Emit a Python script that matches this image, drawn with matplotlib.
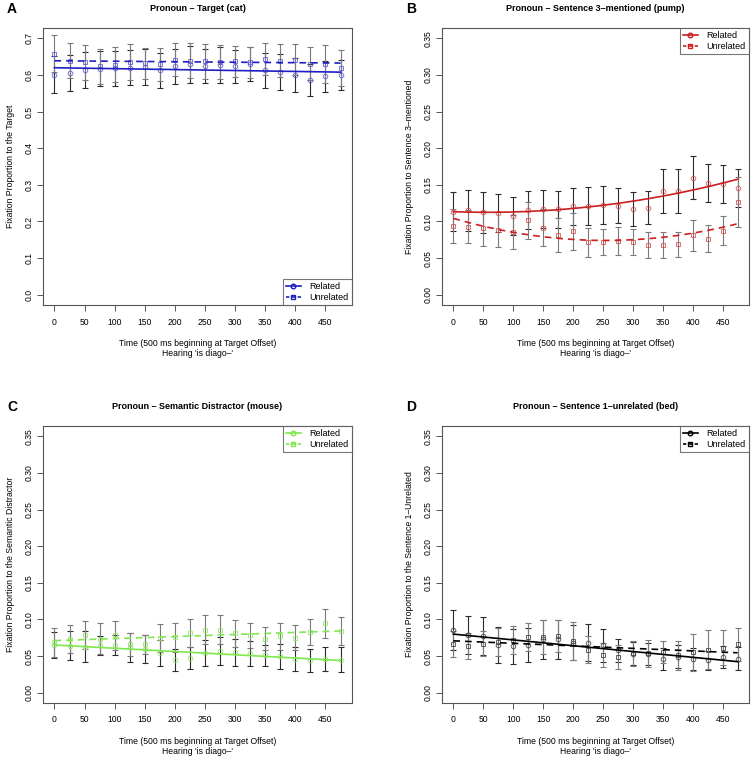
import matplotlib
matplotlib.use('Agg')
import matplotlib.pyplot as plt
from matplotlib.lines import Line2D
import numpy as np

plt.rcParams['font.family'] = ['Liberation Sans', 'DejaVu Sans']

time = [0, 25, 50, 75, 100, 125, 150, 175, 200, 225, 250, 275, 300, 325, 350, 375, 400, 425, 450, 475]
x_ticks = [0, 50, 100, 150, 200, 250, 300, 350, 400, 450]

# Panel A: Target (cat)
a_rel = [0.601, 0.606, 0.613, 0.617, 0.618, 0.620, 0.622, 0.613, 0.623, 0.629,
         0.624, 0.627, 0.624, 0.629, 0.613, 0.608, 0.600, 0.587, 0.596, 0.601]
a_rel_se = [0.050, 0.049, 0.050, 0.048, 0.047, 0.047, 0.049, 0.048, 0.049, 0.050,
            0.047, 0.048, 0.045, 0.047, 0.048, 0.049, 0.046, 0.044, 0.043, 0.041]
a_unr = [0.658, 0.639, 0.634, 0.623, 0.628, 0.635, 0.632, 0.629, 0.642, 0.639,
         0.637, 0.636, 0.637, 0.634, 0.644, 0.639, 0.642, 0.631, 0.630, 0.620]
a_unr_se = [0.050, 0.047, 0.047, 0.049, 0.047, 0.048, 0.042, 0.045, 0.046, 0.047,
            0.047, 0.046, 0.043, 0.042, 0.044, 0.045, 0.043, 0.046, 0.051, 0.049]

# Panel B: Sentence 3-mentioned (pump)
b_rel = [0.1135, 0.1154, 0.1126, 0.1117, 0.1072, 0.1154, 0.1167, 0.1167, 0.1208, 0.1217,
         0.1222, 0.1213, 0.1167, 0.1190, 0.1421, 0.1421, 0.1599, 0.1530, 0.1508, 0.1462]
b_rel_se = [0.027, 0.028, 0.028, 0.026, 0.026, 0.026, 0.026, 0.025, 0.025, 0.026,
            0.026, 0.024, 0.023, 0.022, 0.030, 0.030, 0.029, 0.026, 0.026, 0.026]
b_unr = [0.0936, 0.0930, 0.0908, 0.0886, 0.0854, 0.1017, 0.0917, 0.0817, 0.0863, 0.0713,
         0.0717, 0.0731, 0.0722, 0.0681, 0.0681, 0.0690, 0.0813, 0.0767, 0.0872, 0.1267]
b_unr_se = [0.023, 0.023, 0.024, 0.024, 0.023, 0.025, 0.025, 0.023, 0.025, 0.020,
            0.018, 0.019, 0.018, 0.018, 0.018, 0.017, 0.021, 0.019, 0.020, 0.034]

# Panel C: Semantic Distractor (mouse)
c_rel = [0.065, 0.064, 0.063, 0.065, 0.065, 0.062, 0.060, 0.054, 0.045, 0.047,
         0.054, 0.057, 0.055, 0.054, 0.051, 0.050, 0.046, 0.044, 0.046, 0.045]
c_rel_se = [0.018, 0.020, 0.021, 0.013, 0.014, 0.020, 0.019, 0.018, 0.015, 0.015,
            0.018, 0.019, 0.019, 0.017, 0.014, 0.017, 0.016, 0.016, 0.016, 0.017]
c_unr = [0.0686, 0.0737, 0.0787, 0.0737, 0.0782, 0.0660, 0.0660, 0.0750, 0.0755, 0.0814,
         0.0860, 0.0860, 0.0810, 0.0787, 0.0737, 0.0768, 0.0750, 0.0828, 0.0946, 0.0837]
c_unr_se = [0.020, 0.019, 0.019, 0.021, 0.020, 0.016, 0.013, 0.019, 0.020, 0.019,
            0.020, 0.020, 0.018, 0.017, 0.016, 0.018, 0.017, 0.018, 0.020, 0.019]

# Panel D: Sentence 1-unrelated (bed)
d_rel = [0.0854, 0.0791, 0.0772, 0.0650, 0.0636, 0.0655, 0.0727, 0.0727, 0.0682, 0.0682,
         0.0645, 0.0577, 0.0532, 0.0527, 0.0454, 0.0491, 0.0454, 0.0441, 0.0482, 0.0464]
d_rel_se = [0.027, 0.026, 0.026, 0.025, 0.024, 0.023, 0.027, 0.027, 0.024, 0.025,
            0.022, 0.016, 0.016, 0.015, 0.015, 0.016, 0.015, 0.013, 0.015, 0.016]
d_unr = [0.0668, 0.0641, 0.0668, 0.0696, 0.0723, 0.0764, 0.0764, 0.0772, 0.0700, 0.0590,
         0.0518, 0.0486, 0.0536, 0.0536, 0.0554, 0.0509, 0.0550, 0.0590, 0.0614, 0.0659]
d_unr_se = [0.018, 0.018, 0.017, 0.019, 0.019, 0.019, 0.023, 0.022, 0.026, 0.018,
            0.016, 0.016, 0.017, 0.018, 0.015, 0.020, 0.025, 0.026, 0.024, 0.023]

panels = [
    dict(letter='A', title='Pronoun \u2013 Target (cat)', ylabel='Fixation Proportion to the Target',
         rel=a_rel, rel_se=a_rel_se, unr=a_unr, unr_se=a_unr_se, deg=1,
         line='#1f1fc4', mark='#5555d8', yticks=[0, 0.1, 0.2, 0.3, 0.4, 0.5, 0.6, 0.7], fmt='%.1f',
         ymax=0.7, loc='lower right'),
    dict(letter='B', title='Pronoun \u2013 Sentence 3\u2013mentioned (pump)',
         ylabel='Fixation Proportion to Sentence 3\u2013mentioned',
         rel=b_rel, rel_se=b_rel_se, unr=b_unr, unr_se=b_unr_se, deg=2,
         line='#cc1f1f', mark='#d84a4a', yticks=[0, 0.05, 0.1, 0.15, 0.2, 0.25, 0.3, 0.35], fmt='%.2f',
         ymax=0.35, loc='upper right'),
    dict(letter='C', title='Pronoun \u2013 Semantic Distractor (mouse)',
         ylabel='Fixation Proportion to the Semantic Distractor',
         rel=c_rel, rel_se=c_rel_se, unr=c_unr, unr_se=c_unr_se, deg=1,
         line='#7fe84c', mark='#8ee860', yticks=[0, 0.05, 0.1, 0.15, 0.2, 0.25, 0.3, 0.35], fmt='%.2f',
         ymax=0.35, loc='upper right'),
    dict(letter='D', title='Pronoun \u2013 Sentence 1\u2013unrelated (bed)',
         ylabel='Fixation Proportion to the Sentence 1\u2013Unrelated',
         rel=d_rel, rel_se=d_rel_se, unr=d_unr, unr_se=d_unr_se, deg=1,
         line='#000000', mark='#3a3a3a', yticks=[0, 0.05, 0.1, 0.15, 0.2, 0.25, 0.3, 0.35], fmt='%.2f',
         ymax=0.35, loc='upper right'),
]

W, H = 754, 760
fig = plt.figure(figsize=(W / 100, H / 100), dpi=100)

boxes = [(43, 28, 352, 305), (442, 28, 749, 305), (43, 426, 352, 703), (442, 426, 749, 703)]
FS = 6.2
box_col = '#555555'

for p, (l, t, r, b) in zip(panels, boxes):
    ax = fig.add_axes([l / W, 1 - b / H, (r - l) / W, (b - t) / H])
    x = np.array(time, dtype=float)
    rel = np.array(p['rel']); unr = np.array(p['unr'])
    # points
    ax.plot(x, rel, linestyle='none', marker='o', mfc='none', mec=p['mark'], ms=3.3, mew=0.7, alpha=0.8, zorder=3)
    ax.plot(x, unr, linestyle='none', marker='s', mfc='none', mec=p['mark'], ms=3.0, mew=0.7, alpha=0.8, zorder=3)
    # error bars
    ax.errorbar(x, rel, yerr=p['rel_se'], fmt='none', ecolor='#2b2b2b', elinewidth=0.8,
                capsize=2.4, capthick=0.8, zorder=2)
    ax.errorbar(x, unr, yerr=p['unr_se'], fmt='none', ecolor='#7a7a7a', elinewidth=0.8,
                capsize=2.4, capthick=0.8, zorder=2)
    # fitted curves
    xf = np.linspace(time[0], time[-1], 200)
    fr = np.polyval(np.polyfit(x, rel, p['deg']), xf)
    fu = np.polyval(np.polyfit(x, unr, p['deg']), xf)
    ax.plot(xf, fr, color=p['line'], lw=1.2, zorder=4)
    ax.plot(xf, fu, color=p['line'], lw=1.2, ls=(0, (4, 3)), zorder=4)

    ax.set_xlim(-19, 494)
    pad = p['ymax'] * 0.04
    ax.set_ylim(-pad, p['ymax'] + pad)
    ax.set_xticks(x_ticks)
    ax.set_xticklabels([str(v) for v in x_ticks], fontsize=FS)
    ax.set_yticks(p['yticks'])
    ax.set_yticklabels([p['fmt'] % v for v in p['yticks']], fontsize=FS, rotation=90, va='center')
    ax.tick_params(direction='out', length=4, width=0.7, color=box_col, pad=3)
    ax.tick_params(axis='x', pad=5)
    for s in ax.spines.values():
        s.set_color(box_col)
        s.set_linewidth(0.8)
    ax.set_xlabel("Time (500 ms beginning at Target Offset)\nHearing 'is diago\u2013'", fontsize=FS,
                  labelpad=9, linespacing=1.1)
    ax.set_ylabel(p['ylabel'], fontsize=FS, labelpad=7)
    ax.set_title(p['title'], fontsize=FS + 0.3, fontweight='bold', pad=12)
    fig.text((l - 36) / W, 1 - (t - 19) / H, p['letter'], fontsize=10, fontweight='bold',
             ha='left', va='center')

    handles = [Line2D([], [], color=p['line'], lw=1.2, marker='o', mfc='none', mec=p['line'], ms=3.3),
               Line2D([], [], color=p['line'], lw=1.2, ls=(0, (2, 1.5)), marker='s', mfc='none',
                      mec=p['line'], ms=3.0)]
    leg = ax.legend(handles, ['Related', 'Unrelated'], loc=p['loc'], fontsize=FS + 0.3,
                    frameon=True, fancybox=False, borderaxespad=0, handlelength=1.6,
                    handletextpad=1.0, borderpad=0.35, labelspacing=0.2)
    leg.get_frame().set_edgecolor(box_col)
    leg.get_frame().set_linewidth(0.8)

fig.savefig('out.png', dpi=100)
